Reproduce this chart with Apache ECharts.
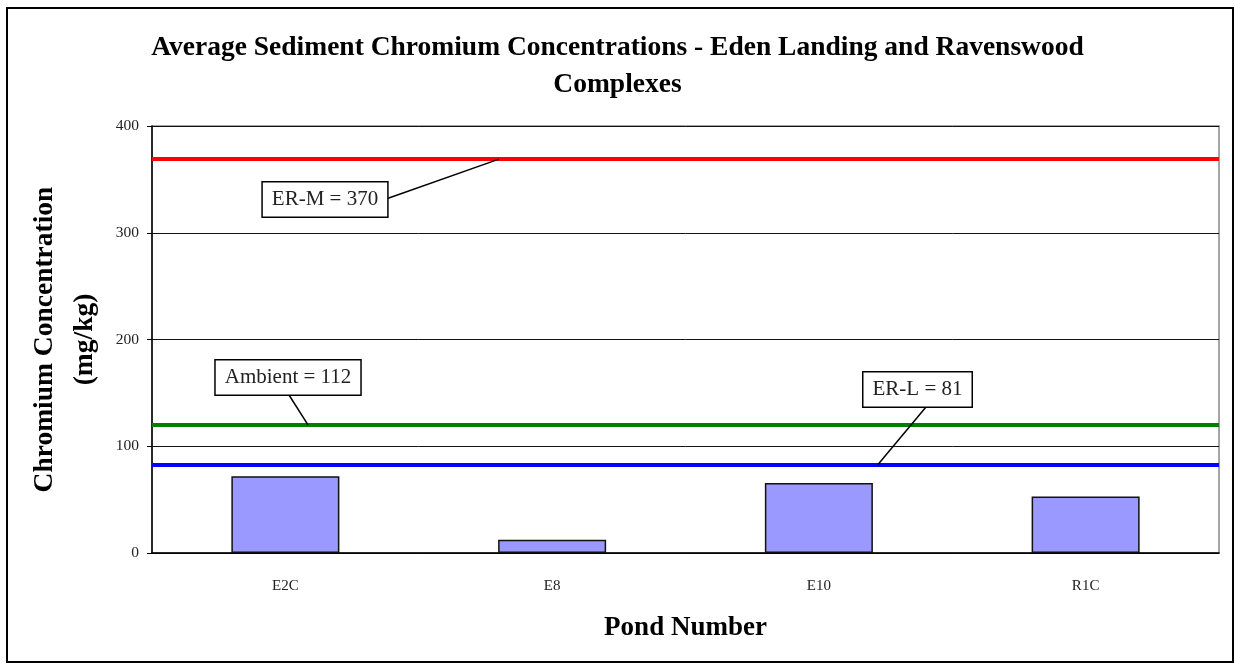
<!DOCTYPE html>
<html>
<head>
<meta charset="utf-8">
<script src="https://cdn.jsdelivr.net/npm/echarts@6/dist/echarts.min.js"></script>
<style>html,body{margin:0;padding:0;background:#fff}#c{width:1235px;height:666px}</style>
</head>
<body>
<div id="c"></div>
<script>
// ---- data ----
const categories = ['E2C', 'E8', 'E10', 'R1C'];
const chromiumValues = [72, 12.5, 65.5, 53];
const thresholdNames = ['ER-M', 'Ambient', 'ER-L'];
const thresholdLevels = [369, 120, 83];          // where the lines are drawn
const thresholdLabels = ['ER-M = 370', 'Ambient = 112', 'ER-L = 81'];
const thresholdColors = ['#FF0000', '#008000', '#0000FF'];
const yTicks = [0, 100, 200, 300, 400];

const FONT = '"Liberation Serif", "DejaVu Serif", serif';
const chart = echarts.init(document.getElementById('c'), null, {renderer: 'canvas'});

const markLines = thresholdLevels.map((v, i) => ({
  yAxis: v,
  lineStyle: {color: thresholdColors[i], width: 4, type: 'solid'},
  label: {show: false}
}));

chart.setOption({
  animation: false,
  backgroundColor: '#fff',
  title: {
    text: 'Average Sediment Chromium Concentrations - Eden Landing and Ravenswood\nComplexes',
    left: 'center',
    top: 24,
    textStyle: {fontFamily: FONT, fontSize: 27.5, fontWeight: 'bold', color: '#000', lineHeight: 37}
  },
  grid: {left: 152, top: 126, right: 16, bottom: 113, show: true, borderColor: '#888', borderWidth: 1.5, backgroundColor: '#fff'},
  xAxis: {
    type: 'category',
    data: categories,
    name: 'Pond Number',
    nameLocation: 'middle',
    nameGap: 62,
    nameTextStyle: {fontFamily: FONT, fontSize: 27, fontWeight: 'bold', color: '#000'},
    axisLine: {lineStyle: {color: '#000', width: 1.5}},
    axisTick: {show: false},
    axisLabel: {fontFamily: FONT, fontSize: 15, color: '#222', margin: 26}
  },
  yAxis: {
    type: 'value',
    min: yTicks[0],
    max: yTicks[yTicks.length - 1],
    interval: yTicks[1] - yTicks[0],
    name: 'Chromium Concentration\n(mg/kg)',
    nameLocation: 'middle',
    nameRotate: 90,
    nameGap: 43,
    nameTextStyle: {fontFamily: FONT, fontSize: 27.5, fontWeight: 'bold', color: '#000', lineHeight: 40},
    axisLine: {show: true, lineStyle: {color: '#000', width: 1.5}},
    axisTick: {show: true, inside: false, length: 5, lineStyle: {color: '#000'}},
    axisLabel: {fontFamily: FONT, fontSize: 15.5, color: '#222', margin: 13},
    splitLine: {show: true, lineStyle: {color: '#111', width: 1}}
  },
  series: [{
    name: 'Chromium',
    type: 'bar',
    data: chromiumValues,
    barWidth: '40.5%',
    itemStyle: {color: '#9999FF', borderColor: '#111', borderWidth: 1.5},
    markLine: {
      silent: true,
      symbol: ['none', 'none'],
      data: markLines,
      animation: false
    },
    z: 2
  }]
});

// ---- annotation boxes with leader lines ----
const boxes = [
  {cx: 325, cy: 199.5, fromX: 386, fromY: 199, toX: 499},
  {cx: 288, cy: 377.5, fromX: 289, fromY: 395, toX: 308},
  {cx: 917.5, cy: 389.5, fromX: 926, fromY: 407, toX: 878}
];
const graphics = [{
  type: 'rect', silent: true, z: 0,
  shape: {x: 7, y: 8, width: 1226, height: 654},
  style: {fill: 'none', stroke: '#000', lineWidth: 2}
}];
boxes.forEach((b, i) => {
  const yLine = chart.convertToPixel({yAxisIndex: 0}, thresholdLevels[i]);
  graphics.push({
    type: 'line', silent: true, z: 100,
    shape: {x1: b.fromX, y1: b.fromY, x2: b.toX, y2: yLine},
    style: {stroke: '#000', lineWidth: 1.5}
  });
  graphics.push({
    type: 'text', silent: true, z: 101,
    x: b.cx, y: b.cy,
    style: {
      text: thresholdLabels[i],
      align: 'center', verticalAlign: 'middle',
      fontFamily: FONT, fontSize: 21, fill: '#222',
      backgroundColor: '#fff', borderColor: '#000', borderWidth: 1.5,
      padding: [6, 9], lineHeight: 22
    }
  });
});
chart.setOption({graphic: graphics});
</script>
</body>
</html>
